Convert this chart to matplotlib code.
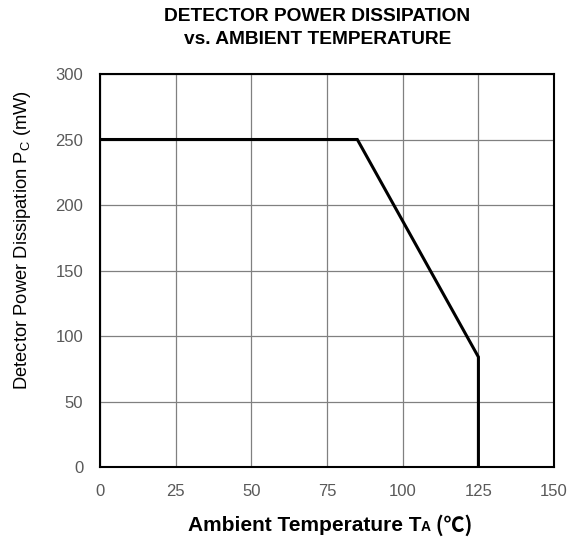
import matplotlib
matplotlib.use("Agg")
import matplotlib.pyplot as plt
from matplotlib.offsetbox import TextArea, HPacker, AnchoredOffsetbox

# derating curve
temp = [0, 85, 125, 125]
power = [250, 250, 84, 0]

x_ticks = [0, 25, 50, 75, 100, 125, 150]
y_ticks = [0, 50, 100, 150, 200, 250, 300]

plt.rcParams['font.family'] = ['Liberation Sans', 'Noto Sans CJK JP', 'DejaVu Sans']
plt.rcParams['mathtext.fontset'] = 'custom'
plt.rcParams['mathtext.rm'] = 'Liberation Sans'
plt.rcParams['mathtext.bf'] = 'Liberation Sans:bold'

fig = plt.figure(figsize=(5.79, 5.40), dpi=100)
ax = fig.add_axes([0.1727, 0.135, 0.7843, 0.728])

ax.plot(temp, power, color='black', lw=2.2, solid_joinstyle='miter', zorder=3)

ax.set_xlim(0, 150)
ax.set_ylim(0, 300)
ax.set_xticks(x_ticks)
ax.set_yticks(y_ticks)
ax.grid(True, color='#808080', lw=0.9)
ax.tick_params(length=0, labelsize=12, labelcolor='#595959', pad=12)
for s in ax.spines.values():
    s.set_linewidth(1.5)
    s.set_color('black')

ax.set_ylabel(r'Detector Power Dissipation P$_\mathregular{C}$ (mW)', fontsize=13.2)
ax.yaxis.set_label_coords(-0.148, 0.578)

# x label with small subscript A and the degree sign from the CJK font
bold = dict(fontsize=15, fontweight='bold')
parts = [
    TextArea("Ambient Temperature T", textprops=bold),
    TextArea("A", textprops=dict(fontsize=10, fontweight='bold')),
    TextArea(" (℃)", textprops=dict(fontsize=15, fontweight='bold',
                                    family=['Noto Sans CJK JP'])),
]
xl = HPacker(children=parts, align='baseline', pad=0, sep=0)
fig.add_artist(AnchoredOffsetbox(loc='center', child=xl, frameon=False, pad=0,
                                 borderpad=0, bbox_to_anchor=(0.570, 0.028),
                                 bbox_transform=fig.transFigure))

fig.text(0.548, 0.986, 'DETECTOR POWER DISSIPATION\nvs. AMBIENT TEMPERATURE',
         fontsize=13.8, fontweight='bold', ha='center', va='top', linespacing=1.5)

fig.savefig('out.png', dpi=100)
